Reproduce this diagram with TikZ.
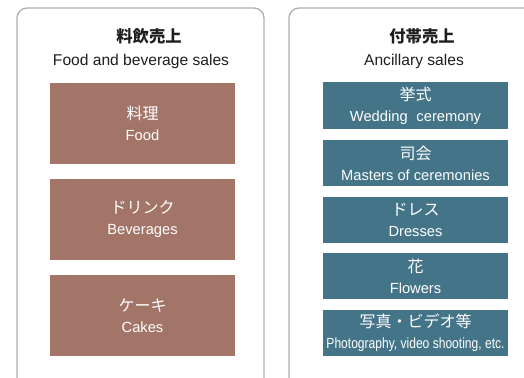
\documentclass[tikz,border=0pt]{standalone}
\usepackage{fontspec}
\setmainfont{Liberation Sans}
\newfontfamily\jp{Noto Sans CJK JP}
\definecolor{brownc}{RGB}{162,117,104}
\definecolor{tealc}{RGB}{67,116,135}
\definecolor{framec}{RGB}{175,175,175}
\definecolor{titlec}{RGB}{30,30,30}
\begin{document}
\begin{tikzpicture}[x=1pt,y=-1pt,
  panel/.style={draw=framec, line width=1.3pt, rounded corners=10pt},
  ttl/.style={text=titlec, inner sep=0, font=\jp\bfseries\fontsize{16.3}{16}\selectfont},
  sub/.style={text=titlec, inner sep=0, font=\fontsize{15.6}{15}\selectfont},
  fbox/.style={fill=brownc, text=white, minimum width=185pt, minimum height=81pt, inner sep=0, align=center, font=\fontsize{14.7}{21}\selectfont},
  abox/.style={fill=tealc, text=white, minimum width=185pt, minimum height=46pt, inner sep=0, align=center, font=\fontsize{14.7}{21}\selectfont}]
\useasboundingbox (0,0) rectangle (524,377);
% panels
\draw[panel] (17,390) -- (17,8) -- (264,8) -- (264,390);
\draw[panel] (289,390) -- (289,8) -- (540,8) -- (540,390);
% titles
\node[ttl] (t1) at (149,36) {料飲売上};
\node[sub] (s1) at (141,61) {Food and beverage sales};
\node[ttl] (t2) at (422,36) {付帯売上};
\node[sub] (s2) at (414,61) {Ancillary sales};
% left boxes
\node[fbox] (food) at (142.5,123.5) {{\jp\fontsize{16}{21}\selectfont 料理}\\Food};
\node[fbox] (drink) at (142.5,219) {{\jp\fontsize{16}{21}\selectfont ドリンク}\\Beverages};
\node[fbox] (cake) at (142.5,315.5) {{\jp\fontsize{16}{21}\selectfont ケーキ}\\Cakes};
% right boxes
\node[abox] (wed) at (415.5,105.5) {{\jp\fontsize{16}{21}\selectfont 挙式}\\Wedding\hspace{0.6em}ceremony};
\node[abox] (mc) at (415.5,163) {{\jp\fontsize{16}{21}\selectfont 司会}\\Masters of ceremonies};
\node[abox] (dress) at (415.5,220) {{\jp\fontsize{16}{21}\selectfont ドレス}\\Dresses};
\node[abox] (flw) at (415.5,276) {{\jp\fontsize{16}{21}\selectfont 花}\\Flowers};
\node[abox] (photo) at (415.5,333) {{\jp\fontsize{16}{21}\selectfont 写真・ビデオ等}\\\scalebox{0.82}[1]{Photography, video shooting, etc.}};
\end{tikzpicture}
\end{document}
